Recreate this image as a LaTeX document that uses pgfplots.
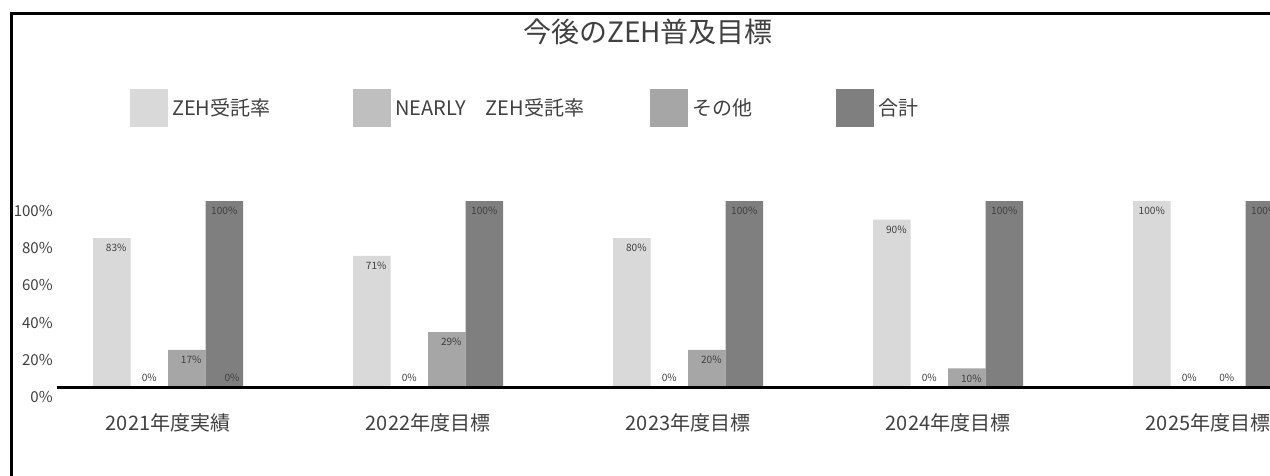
\documentclass[border=0pt]{standalone}
\usepackage{fontspec}
\setmainfont{Noto Sans CJK JP}
\usepackage{pgfplots}
\pgfplotsset{compat=1.18}
\definecolor{c1}{HTML}{D9D9D9}
\definecolor{c2}{HTML}{BFBFBF}
\definecolor{c3}{HTML}{A6A6A6}
\definecolor{c4}{HTML}{7F7F7F}
\definecolor{txt}{HTML}{404040}
\begin{document}
\begin{tikzpicture}
\useasboundingbox (0pt,0pt) rectangle (952.5pt,-356.25pt);
\clip (0pt,0pt) rectangle (952.5pt,-356.25pt);
\draw[line width=2.25pt] (8.625pt,-357pt) -- (8.625pt,-10.125pt) -- (953pt,-10.125pt);
\begin{axis}[
  at={(42.75pt,-290.25pt)}, anchor=south west,
  scale only axis, width=932.25pt, height=139.5pt,
  xmin=-0.42692, xmax=4.35385, ymin=0, ymax=100,
  clip=false, axis on top,
  axis x line*=bottom, axis y line*=left,
  x axis line style={line width=2.25pt, black, -},
  y axis line style={draw=none},
  major tick length=0pt,
  xtick={0,1,2,3,4},
  xticklabels={2021年度実績,2022年度目標,2023年度目標,2024年度目標,2025年度目標},
  xticklabel style={anchor=center, yshift=-27pt, font=\fontsize{15}{18}\selectfont, text=txt},
  ytick={0,20,40,60,80,100},
  yticklabel={\pgfmathprintnumber{\tick}\%},
  yticklabel style={anchor=east, inner sep=0pt, xshift=-3pt, yshift=-7.5pt, font=\fontsize{11.3}{14}\selectfont, text=txt},
  /pgf/number format/assume math mode=true,
  bar width=28.125pt,
  point meta=explicit,
  nodes near coords={\pgfmathprintnumber{\pgfplotspointmeta}\%},
  visualization depends on={y \as \rawy},
  every node near coord/.append style={anchor=center, inner sep=0pt, font=\fontsize{7.6}{9}\selectfont, text=txt,
     yshift={ifthenelse(\rawy==0,6.75,-7.5)}, xshift={(\rawy>0)*(\rawy<99)*3.4}},
  legend columns=4,
  legend image code/.code={\fill[#1] (0pt,-14.25pt) rectangle (28.5pt,14.25pt);},
  legend style={at={(0.05873,1.5)}, anchor=west, draw=none, fill=none, inner sep=0pt, outer sep=0pt,
    nodes={inner sep=0pt, anchor=center, font=\fontsize{15}{18}\selectfont, text=txt},
    /tikz/every odd column/.append style={column sep=3pt},
    /tikz/every even column/.append style={column sep=0pt}},
  title={今後のZEH普及目標},
  title style={at={(0.4755,1.9032)}, anchor=center, yshift=-5.5pt, font=\fontsize{21}{25}\selectfont, text=txt},
]
\addplot[ybar, bar shift=-42.1875pt, fill=c1, draw=none, every node near coord/.append style={xshift=-42.1875pt}]
  coordinates {(0,80) [83] (1,70.5) [71] (2,80) [80] (3,90) [90] (4,100) [100]};
\addlegendentry{\makebox[135.75pt][l]{ZEH受託率}}
\addplot[ybar, bar shift=-14.0625pt, fill=c2, draw=none, every node near coord/.append style={xshift=-14.0625pt}]
  coordinates {(0,0) [0] (1,0) [0] (2,0) [0] (3,0) [0] (4,0) [0]};
\addlegendentry{\makebox[191.25pt][l]{NEARLY　ZEH受託率}}
\addplot[ybar, bar shift=14.0625pt, fill=c3, draw=none, every node near coord/.append style={xshift=14.0625pt}]
  coordinates {(0,20) [17] (1,29.5) [29] (2,20) [20] (3,10) [10] (4,0) [0]};
\addlegendentry{\makebox[108pt][l]{その他}}
\addplot[ybar, bar shift=42.1875pt, fill=c4, draw=none, every node near coord/.append style={xshift=42.1875pt}]
  coordinates {(0,100) [100] (1,100) [100] (2,100) [100] (3,100) [100] (4,100) [100]};
\addlegendentry{合計}
\addplot[ybar, bar shift=48pt, fill=none, draw=none, forget plot, every node near coord/.append style={xshift=48pt}]
  coordinates {(0,0) [0]};
\end{axis}
\end{tikzpicture}
\end{document}
